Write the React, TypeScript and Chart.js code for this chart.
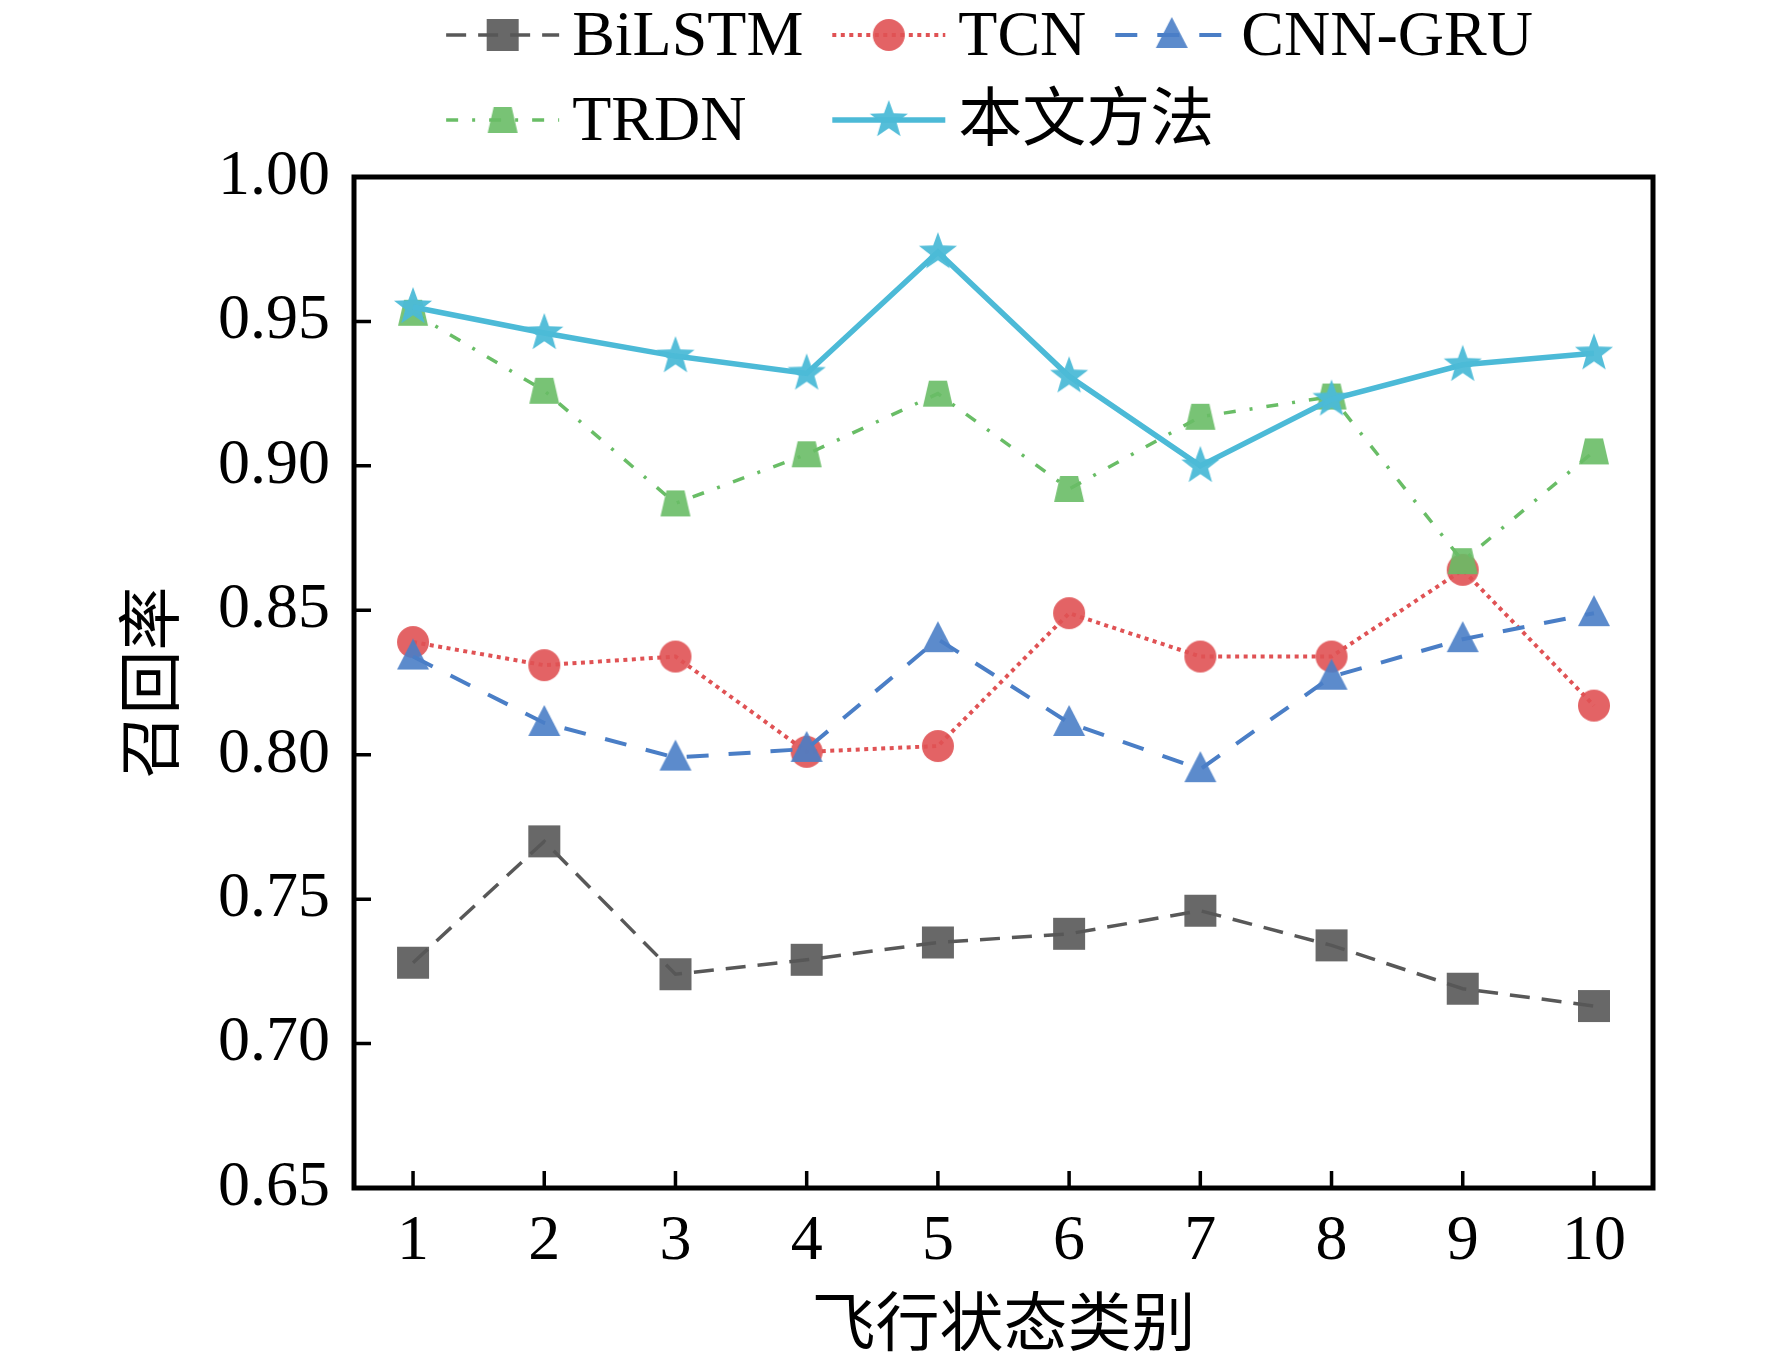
import { useEffect, useRef } from 'react'
import { Chart, registerables } from 'chart.js'

Chart.register(...registerables)

// 飞行状态类别 1..10
const categories = [1, 2, 3, 4, 5, 6, 7, 8, 9, 10]
const yTicks = [0.65, 0.7, 0.75, 0.8, 0.85, 0.9, 0.95, 1.0]

const seriesNames = ['BiLSTM', 'TCN', 'CNN-GRU', 'TRDN', '本文方法']
const bilstm = [0.728, 0.770, 0.724, 0.729, 0.735, 0.738, 0.746, 0.734, 0.719, 0.713]
const tcn = [0.839, 0.831, 0.834, 0.801, 0.803, 0.849, 0.834, 0.834, 0.864, 0.817]
const cnnGru = [0.834, 0.811, 0.799, 0.802, 0.840, 0.811, 0.795, 0.827, 0.840, 0.849]
const trdn = [0.953, 0.926, 0.887, 0.904, 0.925, 0.892, 0.917, 0.924, 0.867, 0.905]
const ours = [0.955, 0.946, 0.938, 0.932, 0.974, 0.931, 0.900, 0.923, 0.935, 0.939]

const FONT = '"Liberation Serif", "Times New Roman", "Noto Sans CJK SC", serif'
const FONT_SIZE = 64

type MarkerKind = 'square' | 'circle' | 'triangle' | 'trapezoid' | 'star'

const styles = [
  { color: 'rgba(88,88,88,1)', fill: 'rgba(88,88,88,0.9)', dash: [20, 12], width: 3.5, marker: 'square' as MarkerKind },
  { color: 'rgba(224,82,84,1)', fill: 'rgba(224,82,84,0.9)', dash: [4, 4.5], width: 4, marker: 'circle' as MarkerKind },
  { color: 'rgba(74,126,198,1)', fill: 'rgba(74,126,198,0.9)', dash: [22, 20], width: 4, marker: 'triangle' as MarkerKind },
  { color: 'rgba(105,189,102,1)', fill: 'rgba(105,189,102,0.9)', dash: [12, 14, 3, 14], width: 3.5, marker: 'trapezoid' as MarkerKind },
  { color: 'rgba(76,186,215,1)', fill: 'rgba(76,186,215,0.95)', dash: [] as number[], width: 5.5, marker: 'star' as MarkerKind },
]

function markerCanvas(kind: MarkerKind, color: string) {
  const c = document.createElement('canvas')
  const s = 44
  c.width = s
  c.height = s
  const g = c.getContext('2d')!
  g.translate(s / 2, s / 2)
  g.fillStyle = color
  g.beginPath()
  if (kind === 'square') {
    g.rect(-16, -16, 32, 32)
  } else if (kind === 'circle') {
    g.arc(0, 0, 16, 0, Math.PI * 2)
  } else if (kind === 'triangle') {
    g.moveTo(0, -18)
    g.lineTo(16, 13)
    g.lineTo(-16, 13)
    g.closePath()
  } else if (kind === 'trapezoid') {
    g.moveTo(-9, -13)
    g.lineTo(9, -13)
    g.lineTo(15, 13)
    g.lineTo(-15, 13)
    g.closePath()
  } else {
    for (let k = 0; k < 10; k++) {
      const r = k % 2 === 0 ? 20 : 8.2
      const a = -Math.PI / 2 + (k * Math.PI) / 5
      if (k === 0) g.moveTo(r * Math.cos(a), r * Math.sin(a))
      else g.lineTo(r * Math.cos(a), r * Math.sin(a))
    }
    g.closePath()
  }
  g.fill()
  return c
}

export default function App() {
  const canvasRef = useRef<HTMLCanvasElement>(null)

  useEffect(() => {
    document.body.style.margin = '0'
    document.body.style.overflow = 'hidden'
    const canvas = canvasRef.current
    if (!canvas) return

    const allValues = [bilstm, tcn, cnnGru, trdn, ours]
    const markers = styles.map(s => markerCanvas(s.marker, s.fill))

    // matplotlib style frame with inward ticks
    const framePlugin = {
      id: 'frame',
      afterDraw(chart: Chart) {
        const { ctx, chartArea: a } = chart
        const xs = chart.scales.x
        const ys = chart.scales.y
        ctx.save()
        ctx.strokeStyle = '#000'
        ctx.lineWidth = 5
        ctx.setLineDash([])
        ctx.strokeRect(a.left, a.top, a.right - a.left, a.bottom - a.top)
        ctx.lineWidth = 3.5
        ctx.beginPath()
        yTicks.forEach(v => {
          const py = ys.getPixelForValue(v)
          ctx.moveTo(a.left, py)
          ctx.lineTo(a.left + 17, py)
        })
        categories.forEach(v => {
          const px = xs.getPixelForValue(v)
          ctx.moveTo(px, a.bottom)
          ctx.lineTo(px, a.bottom - 17)
        })
        ctx.stroke()
        ctx.restore()
      },
    }

    // two-row legend: line + marker handles
    const legendPlugin = {
      id: 'mplLegend',
      afterDraw(chart: Chart) {
        const { ctx, chartArea: a } = chart
        const handle = 113
        const gap = 13
        const colGap = 29
        ctx.save()
        ctx.font = `${FONT_SIZE}px ${FONT}`
        ctx.textBaseline = 'middle'
        ctx.fillStyle = '#000'
        const width = (i: number) => handle + gap + ctx.measureText(seriesNames[i]).width
        const row1 = [0, 1, 2]
        const total = row1.reduce((s, i) => s + width(i), 0) + colGap * (row1.length - 1)
        let x = (a.left + a.right) / 2 - total / 2 - 14
        const starts: number[] = []
        row1.forEach(i => {
          starts.push(x)
          x += width(i) + colGap
        })
        const items = [
          { i: 0, x: starts[0], y: a.top - 142 },
          { i: 1, x: starts[1], y: a.top - 142 },
          { i: 2, x: starts[2], y: a.top - 142 },
          { i: 3, x: starts[0], y: a.top - 57 },
          { i: 4, x: starts[1], y: a.top - 57 },
        ]
        items.forEach(({ i, x, y }) => {
          const st = styles[i]
          ctx.strokeStyle = st.color
          ctx.lineWidth = st.width
          ctx.setLineDash(st.dash)
          ctx.beginPath()
          ctx.moveTo(x, y)
          ctx.lineTo(x + handle, y)
          ctx.stroke()
          const m = markers[i]
          ctx.drawImage(m, x + handle / 2 - m.width / 2, y - m.height / 2)
          ctx.fillText(seriesNames[i], x + handle + gap, y + 3)
        })
        ctx.restore()
      },
    }

    const chart = new Chart(canvas, {
      type: 'line',
      data: {
        datasets: allValues.map((vals, i) => ({
          label: seriesNames[i],
          data: vals.map((v, k) => ({ x: categories[k], y: v })),
          borderColor: styles[i].color,
          borderWidth: styles[i].width,
          borderDash: styles[i].dash,
          pointStyle: markers[i],
          pointRadius: 16,
          fill: false,
          tension: 0,
          order: allValues.length - 1 - i,
        })),
      },
      options: {
        animation: false,
        responsive: true,
        maintainAspectRatio: false,
        layout: { padding: { left: 0, top: 177, right: 119, bottom: 0 } },
        plugins: {
          legend: { display: false },
          tooltip: { enabled: false },
        },
        scales: {
          x: {
            type: 'linear',
            min: 0.55,
            max: 10.45,
            afterBuildTicks: (scale: any) => {
              scale.ticks = categories.map(v => ({ value: v }))
            },
            afterFit: (scale: any) => {
              scale.height = 179
            },
            grid: { display: false, drawTicks: false },
            border: { display: false },
            ticks: {
              padding: 16,
              color: '#000',
              font: { family: FONT, size: FONT_SIZE },
              maxRotation: 0,
              autoSkip: false,
              callback: (v: any) => String(v),
            },
            title: {
              display: true,
              text: '飞行状态类别',
              color: '#000',
              font: { family: FONT, size: FONT_SIZE },
              padding: { top: 0, bottom: 0 },
            },
          },
          y: {
            min: 0.65,
            max: 1.0,
            afterBuildTicks: (scale: any) => {
              scale.ticks = yTicks.map(v => ({ value: v }))
            },
            afterFit: (scale: any) => {
              scale.width = 354
            },
            grid: { display: false, drawTicks: false },
            border: { display: false },
            ticks: {
              padding: 24,
              color: '#000',
              font: { family: FONT, size: FONT_SIZE },
              callback: (v: any) => Number(v).toFixed(2),
            },
            title: {
              display: true,
              text: '召回率',
              color: '#000',
              font: { family: FONT, size: FONT_SIZE },
              padding: { top: 118, bottom: 0 },
            },
          },
        },
      },
      plugins: [framePlugin, legendPlugin],
    })

    return () => {
      chart.destroy()
    }
  }, [])

  return (
    <div style={{ position: 'relative', width: 1772, height: 1367, background: '#fff' }}>
      <canvas ref={canvasRef} />
    </div>
  )
}
